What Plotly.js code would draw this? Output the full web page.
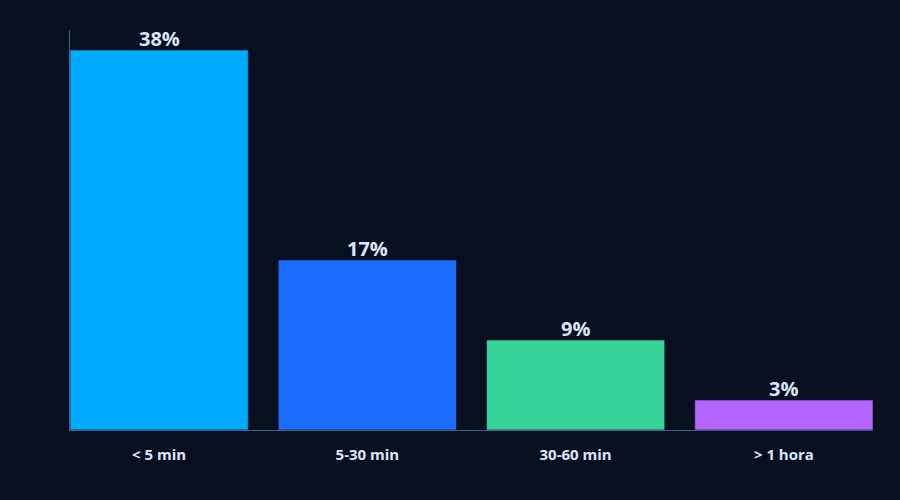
<!DOCTYPE html>
<html>
<head>
<meta charset="utf-8">
<script src="https://cdn.plot.ly/plotly-3.0.1.min.js"></script>
<style>html,body{margin:0;padding:0;background:#081020;}</style>
</head>
<body>
<div id="chart" style="width:900px;height:500px;"></div>
<script>
const categories = ["< 5 min", "5-30 min", "30-60 min", "> 1 hora"];
const values = [38, 17, 9, 3];
const labels = ["38%", "17%", "9%", "3%"];
const colors = ["#00aaff", "#1a6dff", "#36d399", "#b366ff"];

const trace = {
  type: "bar",
  x: categories,
  y: values,
  cliponaxis: false,
  marker: {color: colors, line: {color: "rgba(8,16,32,0.6)", width: 1}},
  width: 0.856,
  hoverinfo: "none"
};

const annotations = categories.map((c, i) => ({
  x: c, y: values[i], xref: "x", yref: "y",
  text: labels[i], showarrow: false,
  yanchor: "bottom", yshift: -4,
  font: {family: "Open Sans, sans-serif", size: 20, color: "#dbe6ff", weight: 700}
}));

const layout = {
  width: 900, height: 500,
  paper_bgcolor: "#081020",
  plot_bgcolor: "#081020",
  margin: {l: 70, r: 27, t: 30, b: 70},
  showlegend: false,
  annotations: annotations,
  xaxis: {
    type: "category",
    range: [-0.4279, 3.4279],
    showgrid: false, zeroline: false,
    showline: true, linecolor: "#3d5f8a", linewidth: 1,
    ticks: "",
    ticklabelstandoff: 11,
    tickfont: {family: "Open Sans, sans-serif", size: 15, color: "#dbe6ff", weight: 700}
  },
  yaxis: {
    range: [0, 40],
    showgrid: false, zeroline: false,
    showline: true, linecolor: "#3d5f8a", linewidth: 1,
    showticklabels: false, ticks: ""
  }
};

Plotly.newPlot("chart", [trace], layout, {displayModeBar: false, staticPlot: true});
</script>
</body>
</html>
